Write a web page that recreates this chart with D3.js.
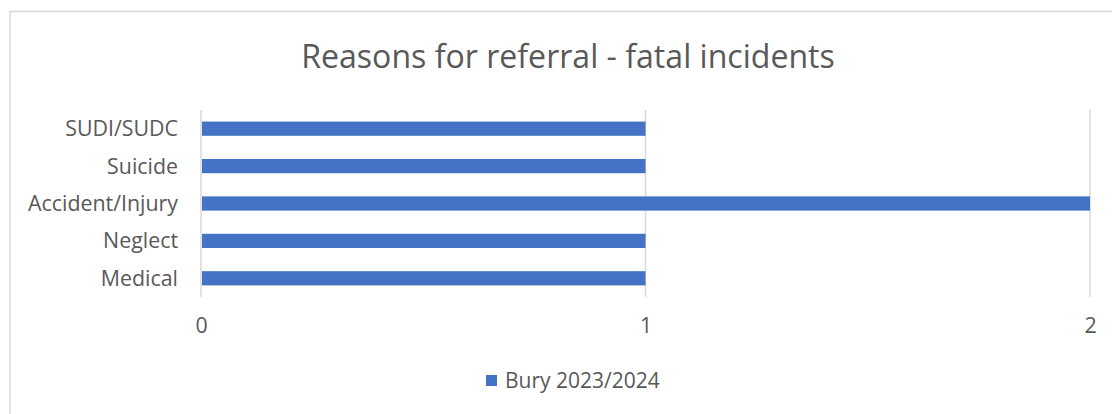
<!DOCTYPE html>
<html>
<head>
<meta charset="utf-8">
<script src="https://cdn.jsdelivr.net/npm/d3@7"></script>
<style>
  html, body { margin: 0; padding: 0; background: #fff; }
  svg { display: block; font-family: "Open Sans", sans-serif; }
</style>
</head>
<body>
<svg id="chart" width="1112" height="414"></svg>
<script>
const title = "Reasons for referral - fatal incidents";
const categories = ["SUDI/SUDC", "Suicide", "Accident/Injury", "Neglect", "Medical"];
const values = [1, 1, 2, 1, 1];
const seriesName = "Bury 2023/2024";
const xTicks = [0, 1, 2];

const W = 1112, H = 414;
const margin = { left: 201, right: 22, top: 110, bottom: 117 };
const svg = d3.select("#chart");
const FONT = "'Open Sans', sans-serif";

// fit a text element's font size so that it spans a target width
function fitSize(sel, targetWidth, baseSize) {
  sel.style("font-size", baseSize + "px");
  const w = sel.node().getComputedTextLength();
  const s = baseSize * targetWidth / w;
  sel.style("font-size", s + "px");
  return s;
}

// outer border
svg.append("rect")
  .attr("x", 10).attr("y", 11.5)
  .attr("width", W + 10).attr("height", H + 10)
  .attr("fill", "none").attr("stroke", "#d9d9d9").attr("stroke-width", 1.5);

const x = d3.scaleLinear().domain([0, 2]).range([margin.left, W - margin.right]);
const y = d3.scaleBand().domain(categories)
  .range([margin.top, H - margin.bottom])
  .paddingInner(0.62).paddingOuter(0.31);

// gridlines
svg.append("g").selectAll("line").data(xTicks).join("line")
  .attr("x1", d => x(d)).attr("x2", d => x(d))
  .attr("y1", margin.top).attr("y2", H - margin.bottom)
  .attr("stroke", "#d9d9d9").attr("stroke-width", 1.5);

// bars
svg.append("g").selectAll("rect").data(categories).join("rect")
  .attr("x", x(0) + 1)
  .attr("y", d => y(d))
  .attr("width", (d, i) => x(values[i]) - x(0) - 1)
  .attr("height", y.bandwidth())
  .attr("fill", "#4472c4");

// y axis labels
const yAxis = d3.axisLeft(y).tickSize(0).tickPadding(23);
const gy = svg.append("g").attr("transform", `translate(${margin.left},0)`).call(yAxis);
gy.select(".domain").remove();
gy.selectAll("text")
  .attr("dy", "0.35em")
  .attr("fill", "#595959").style("font-family", FONT);
// size from the widest label
const widest = gy.selectAll("text").filter(d => d === "Accident/Injury");
const labelSize = fitSize(widest, 150, 17);
gy.selectAll("text").style("font-size", labelSize + "px");

// x axis labels
const xAxis = d3.axisBottom(x).tickValues(xTicks).tickSize(0).tickPadding(0).tickFormat(d3.format("d"));
const gx = svg.append("g").attr("transform", `translate(0,${H - margin.bottom})`).call(xAxis);
gx.select(".domain").remove();
gx.selectAll("text")
  .attr("y", 36).attr("dy", 0)
  .attr("fill", "#595959").style("font-size", labelSize + "px").style("font-family", FONT);

// title
const t = svg.append("text")
  .attr("x", 568).attr("y", 68)
  .attr("text-anchor", "middle")
  .attr("fill", "#595959")
  .text(title);
fitSize(t, 534, 28);

// legend
const lg = svg.append("g");
lg.append("rect").attr("x", 486).attr("y", 375).attr("width", 11).attr("height", 11).attr("fill", "#4472c4");
const lt = lg.append("text").attr("x", 505).attr("y", 388)
  .attr("fill", "#595959").text(seriesName);
fitSize(lt, 155, 17);
</script>
</body>
</html>
